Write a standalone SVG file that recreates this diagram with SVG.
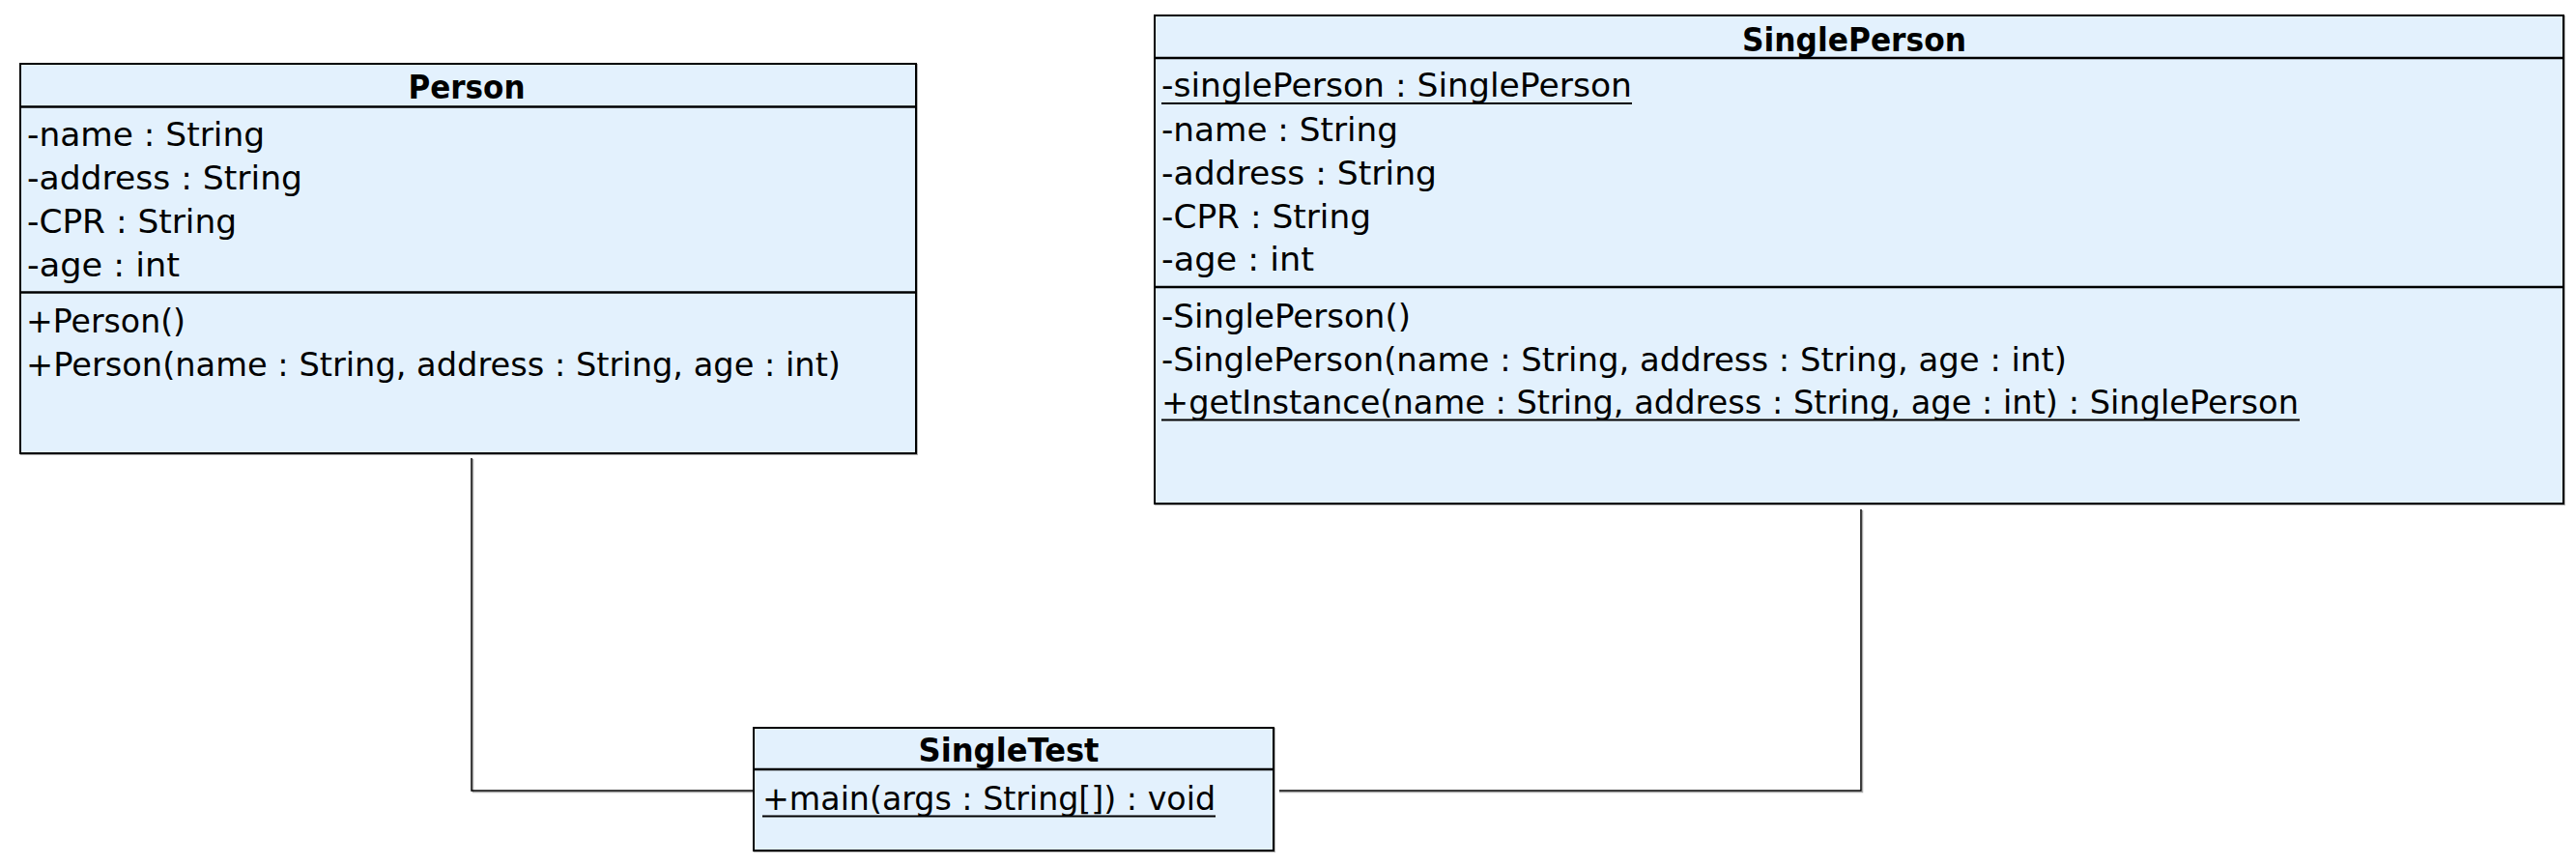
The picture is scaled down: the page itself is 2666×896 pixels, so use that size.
<svg xmlns="http://www.w3.org/2000/svg" width="2666" height="896" viewBox="0 0 2666 896">
<style>
.box{fill:#E3F1FD;stroke:#000;stroke-width:2}
.shadow{fill:none;stroke:#B4B4B4;stroke-width:2}
.div{stroke:#000;stroke-width:2.5}
.title{font-family:"DejaVu Sans",Verdana,sans-serif;font-weight:bold;font-size:33px;fill:#000;text-anchor:middle}
.t{font-family:"DejaVu Sans",Verdana,sans-serif;font-size:33px;fill:#000}
.ul{stroke:#000;stroke-width:2}
.conn{fill:none;stroke:#000;stroke-width:1.5}
.connsh{fill:none;stroke:#AAAAAA;stroke-width:1.5}
</style>
<rect width="2666" height="896" fill="#FFFFFF"/>
<g id="connectors">
<polyline class="connsh" points="489.5,475 489.5,819.5 780,819.5"/>
<polyline class="conn" points="488,474 488,818 780,818"/>
<polyline class="connsh" points="1324,819.5 1927.5,819.5 1927.5,528"/>
<polyline class="conn" points="1324,818 1926,818 1926,527"/>
</g>
<g id="Person">
<rect class="shadow" x="22" y="67" width="927" height="403"/>
<rect class="box" x="21" y="66" width="927" height="403"/>
<line class="div" x1="21" y1="110.5" x2="948" y2="110.5"/>
<line class="div" x1="21" y1="302.5" x2="948" y2="302.5"/>
<text class="title" x="483" y="101.5" textLength="121" lengthAdjust="spacingAndGlyphs">Person</text>
<text class="t" x="28" y="151" textLength="246" lengthAdjust="spacingAndGlyphs">-name : String</text>
<text class="t" x="28" y="196" textLength="285" lengthAdjust="spacingAndGlyphs">-address : String</text>
<text class="t" x="28" y="241" textLength="217" lengthAdjust="spacingAndGlyphs">-CPR : String</text>
<text class="t" x="28" y="286" textLength="158" lengthAdjust="spacingAndGlyphs">-age : int</text>
<text class="t" x="27" y="344" textLength="165" lengthAdjust="spacingAndGlyphs">+Person()</text>
<text class="t" x="27" y="389" textLength="843" lengthAdjust="spacingAndGlyphs">+Person(name : String, address : String, age : int)</text>
</g>
<g id="SinglePerson">
<rect class="shadow" x="1196" y="17" width="1458" height="505"/>
<rect class="box" x="1195" y="16" width="1458" height="505"/>
<line class="div" x1="1195" y1="60" x2="2653" y2="60"/>
<line class="div" x1="1195" y1="297" x2="2653" y2="297"/>
<text class="title" x="1919" y="52.5" textLength="232" lengthAdjust="spacingAndGlyphs">SinglePerson</text>
<text class="t" x="1202" y="100" textLength="487" lengthAdjust="spacingAndGlyphs">-singlePerson : SinglePerson</text>
<line class="ul" x1="1202" y1="107" x2="1689" y2="107"/>
<text class="t" x="1202" y="146" textLength="245" lengthAdjust="spacingAndGlyphs">-name : String</text>
<text class="t" x="1202" y="191" textLength="285" lengthAdjust="spacingAndGlyphs">-address : String</text>
<text class="t" x="1202" y="235.5" textLength="217" lengthAdjust="spacingAndGlyphs">-CPR : String</text>
<text class="t" x="1202" y="280" textLength="158" lengthAdjust="spacingAndGlyphs">-age : int</text>
<text class="t" x="1202" y="338.5" textLength="258" lengthAdjust="spacingAndGlyphs">-SinglePerson()</text>
<text class="t" x="1202" y="383.5" textLength="937" lengthAdjust="spacingAndGlyphs">-SinglePerson(name : String, address : String, age : int)</text>
<text class="t" x="1202" y="427.5" textLength="1177" lengthAdjust="spacingAndGlyphs">+getInstance(name : String, address : String, age : int) : SinglePerson</text>
<line class="ul" x1="1202" y1="434.5" x2="2380" y2="434.5"/>
</g>
<g id="SingleTest">
<rect class="shadow" x="781" y="754" width="538" height="127"/>
<rect class="box" x="780" y="753" width="538" height="127"/>
<line class="div" x1="780" y1="796" x2="1318" y2="796"/>
<text class="title" x="1044" y="788" textLength="187" lengthAdjust="spacingAndGlyphs">SingleTest</text>
<text class="t" x="789" y="838" textLength="469" lengthAdjust="spacingAndGlyphs">+main(args : String[]) : void</text>
<line class="ul" x1="789" y1="844.5" x2="1258" y2="844.5"/>
</g>
</svg>
